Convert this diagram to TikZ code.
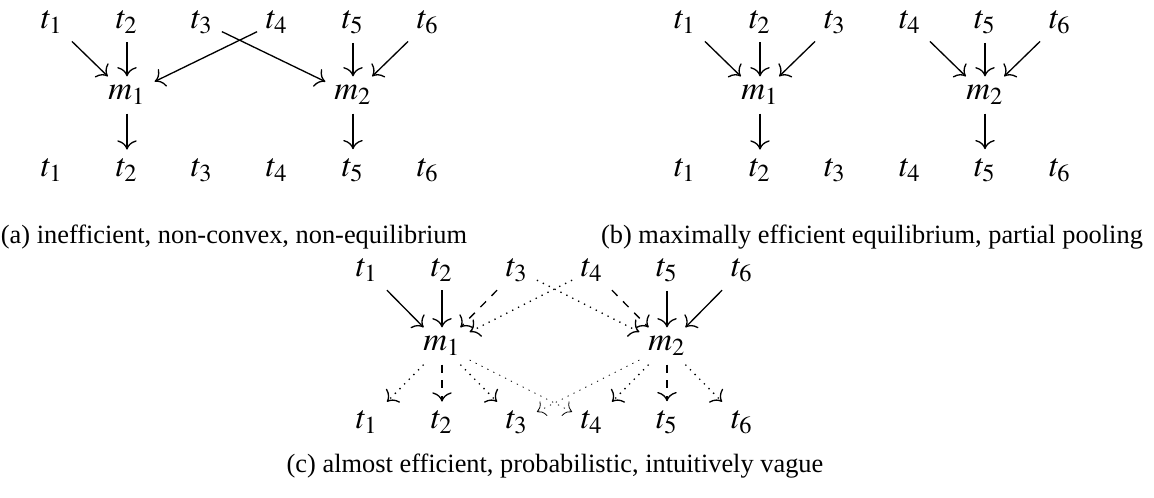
\documentclass[tikz,border=0pt]{standalone}
\usepackage{mathptmx}
\usepackage{fontspec}
\setmainfont{Liberation Serif}
\usetikzlibrary{arrows.meta}

\begin{document}
\begin{tikzpicture}[x=0.379pt, y=-0.379pt, font=\fontsize{12.5}{15}\selectfont, inner sep=3.2pt,
    sig/.style={-{To[scale=1.3]}, line width=0.5pt},
    weak/.style={sig, dotted},
    faint/.style={sig, dotted, line width=0.3pt},
    subcap/.style={font=\normalsize}]
  \useasboundingbox (0,0) rectangle (1154,497);

  % (a) inefficient
  \foreach \i/\x in {1/52,2/127,3/202,4/277,5/353,6/428} {
    \node (ta\i) at (\x,22) {$t_\i$};
    \node (ba\i) at (\x,170) {$t_\i$};
  }
  \node (ma1) at (127,95) {$m_1$};
  \node (ma2) at (353,95) {$m_2$};
  \draw[sig] (ta1)--(ma1);
  \draw[sig] (ta2)--(ma1);
  \draw[sig] (ta4)--(ma1);
  \draw[sig] (ta3)--(ma2);
  \draw[sig] (ta5)--(ma2);
  \draw[sig] (ta6)--(ma2);
  \draw[sig] (ma1)--(ba2);
  \draw[sig] (ma2)--(ba5);
  \node[subcap] (capa) at (234,237) {(a) inefficient, non-convex, non-equilibrium};

  % (b) partial pooling
  \foreach \i/\x in {1/685,2/760,3/835,4/910,5/985,6/1060} {
    \node (tb\i) at (\x,22) {$t_\i$};
    \node (bb\i) at (\x,170) {$t_\i$};
  }
  \node (mb1) at (760,95) {$m_1$};
  \node (mb2) at (985,95) {$m_2$};
  \draw[sig] (tb1)--(mb1);
  \draw[sig] (tb2)--(mb1);
  \draw[sig] (tb3)--(mb1);
  \draw[sig] (tb4)--(mb2);
  \draw[sig] (tb5)--(mb2);
  \draw[sig] (tb6)--(mb2);
  \draw[sig] (mb1)--(bb2);
  \draw[sig] (mb2)--(bb5);
  \node[subcap] (capb) at (872,237) {(b) maximally efficient equilibrium, partial pooling};

  % (c) probabilistic
  \foreach \i/\x in {1/367,2/442,3/517,4/592,5/667,6/742} {
    \node (tc\i) at (\x,270) {$t_\i$};
    \node (bc\i) at (\x,422) {$t_\i$};
  }
  \node (mc1) at (442,346) {$m_1$};
  \node (mc2) at (667,346) {$m_2$};
  \draw[sig] (tc1)--(mc1);
  \draw[sig] (tc2)--(mc1);
  \draw[sig, dashed] (tc3)--(mc1);
  \draw[weak] (tc4)--(mc1);
  \draw[weak] (tc3)--(mc2);
  \draw[sig, dashed] (tc4)--(mc2);
  \draw[sig] (tc5)--(mc2);
  \draw[sig] (tc6)--(mc2);
  \draw[weak] (mc1)--(bc1);
  \draw[sig, dashed] (mc1)--(bc2);
  \draw[weak] (mc1)--(bc3);
  \draw[faint] (mc1)--(bc4);
  \draw[faint] (mc2)--(bc3);
  \draw[weak] (mc2)--(bc4);
  \draw[sig, dashed] (mc2)--(bc5);
  \draw[weak] (mc2)--(bc6);
  \node[subcap] (capc) at (555,466) {(c) almost efficient, probabilistic, intuitively vague};
\end{tikzpicture}
\end{document}
